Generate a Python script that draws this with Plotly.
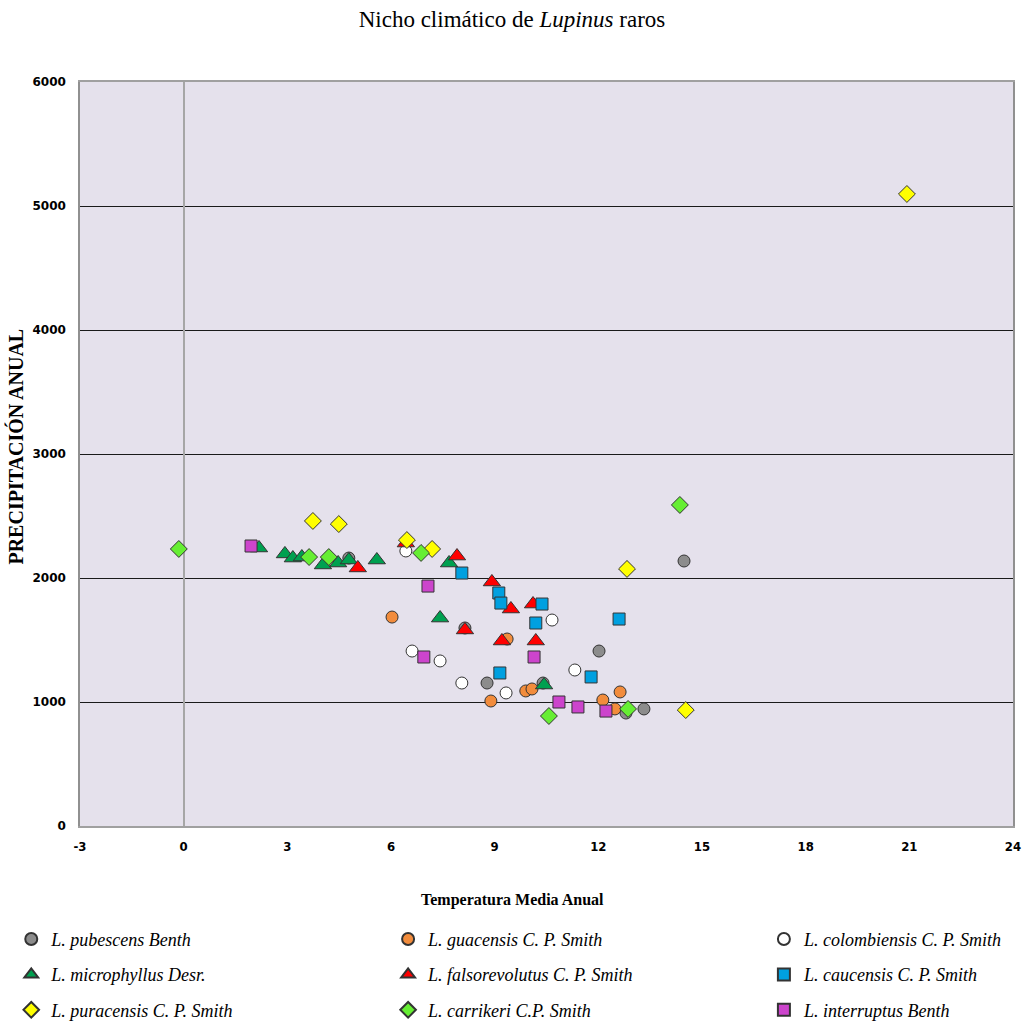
import plotly.graph_objects as go

# ---- data (Temperatura media anual, Precipitación anual) ----
pubescens_x = [4.78, 8.14, 8.78, 10.40, 12.02, 12.80, 13.32, 14.48]
pubescens_y = [2161, 1597, 1153, 1153, 1411, 911, 944, 2137]

guacensis_x = [6.03, 8.89, 9.36, 9.90, 10.08, 12.13, 12.48, 12.63]
guacensis_y = [1685, 1008, 1508, 1089, 1105, 1016, 944, 1081]

colombiensis_x = [6.43, 6.61, 7.42, 8.05, 9.33, 10.66, 11.32]
colombiensis_y = [2218, 1411, 1331, 1153, 1073, 1661, 1258]

microphyllus_x = [2.18, 2.93, 3.16, 3.42, 4.03, 4.47, 4.78, 5.59, 7.42, 7.68, 10.43]
microphyllus_y = [2242, 2194, 2161, 2169, 2105, 2121, 2145, 2145, 1677, 2121, 1137]

falsorevolutus_x = [5.04, 6.43, 7.91, 8.14, 8.92, 9.21, 9.47, 10.11, 10.19]
falsorevolutus_y = [2081, 2282, 2177, 1581, 1968, 1492, 1750, 1790, 1492]

caucensis_x = [8.05, 9.12, 9.18, 9.15, 10.19, 10.37, 11.79, 12.60]
caucensis_y = [2040, 1879, 1798, 1234, 1637, 1790, 1202, 1669]

puracensis_x = [3.74, 4.49, 6.46, 7.19, 12.83, 14.53, 20.93]
puracensis_y = [2460, 2435, 2306, 2234, 2073, 935, 5097]

carrikeri_x = [-0.14, 3.63, 4.20, 6.87, 10.57, 12.86, 14.36]
carrikeri_y = [2234, 2169, 2169, 2202, 887, 944, 2589]

interruptus_x = [1.95, 7.07, 6.95, 10.14, 10.86, 11.41, 12.22]
interruptus_y = [2258, 1935, 1363, 1363, 1000, 960, 927]

x_ticks = [-3, 0, 3, 6, 9, 12, 15, 18, 21, 24]
x_tick_labels = ["-3", "0", "3", "6", "9", "12", "15", "18", "21", "24"]
y_ticks = [0, 1000, 2000, 3000, 4000, 5000, 6000]

series = [
    ("L. pubescens Benth", pubescens_x, pubescens_y, "circle", "#8C8C8C", "legend"),
    ("L. microphyllus Desr.", microphyllus_x, microphyllus_y, "triangle-up", "#00A050", "legend"),
    ("L. puracensis C. P. Smith", puracensis_x, puracensis_y, "diamond", "#FFFF00", "legend"),
    ("L. guacensis C. P. Smith", guacensis_x, guacensis_y, "circle", "#F28C3C", "legend2"),
    ("L. falsorevolutus C. P. Smith", falsorevolutus_x, falsorevolutus_y, "triangle-up", "#FF0000", "legend2"),
    ("L. carrikeri C.P. Smith", carrikeri_x, carrikeri_y, "diamond", "#66EE33", "legend2"),
    ("L. colombiensis C. P. Smith", colombiensis_x, colombiensis_y, "circle", "#FFFFFF", "legend3"),
    ("L. caucensis C. P. Smith", caucensis_x, caucensis_y, "square", "#00A0E0", "legend3"),
    ("L. interruptus Benth", interruptus_x, interruptus_y, "square", "#CC44CC", "legend3"),
]

# draw order (back to front) similar to the original
draw_order = [0, 3, 6, 1, 4, 7, 2, 5, 8]

fig = go.Figure()
for i in draw_order:
    name, xs, ys, sym, col, leg = series[i]
    size = 12 if sym != "triangle-up" else 15
    if sym == "diamond":
        size = 13
    fig.add_trace(go.Scatter(
        x=xs, y=ys, mode="markers", name=name,
        legend=leg, legendgroup=name, legendrank=i,
        marker=dict(symbol=sym, size=size, color=col,
                    line=dict(color="#333333", width=1)),
    ))

legend_common = dict(
    font=dict(family="Liberation Serif", size=18, color="#000000", style="italic"),
    orientation="v", xref="container", yref="container",
    xanchor="left", yanchor="top", tracegroupgap=9,
    bgcolor="rgba(0,0,0,0)", itemsizing="constant",
)

fig.update_layout(
    width=1024, height=1030,
    paper_bgcolor="#FFFFFF", plot_bgcolor="#E5E1EC",
    margin=dict(l=80, r=11, t=82, b=204, autoexpand=False),
    title=dict(text="Nicho climático de <i>Lupinus</i> raros",
               x=0.5, xanchor="center", y=0.982, yanchor="middle",
               font=dict(family="Liberation Serif", size=23, color="#000000")),
    xaxis=dict(range=[-3, 24], tickvals=x_ticks, ticktext=x_tick_labels,
               showgrid=False, automargin=False,
               zeroline=True, zerolinecolor="#A6A6A6", zerolinewidth=1.5,
               showline=True, linecolor="#A0A0A0", linewidth=1.5, mirror=True,
               tickfont=dict(family="DejaVu Sans Condensed", size=13, color="#000000", weight="bold"),
               ticklabelstandoff=8),
    yaxis=dict(range=[0, 6000], tickvals=y_ticks, showgrid=True, automargin=False,
               gridcolor="#1A1A1A", gridwidth=1.2, zeroline=False,
               showline=True, linecolor="#909090", linewidth=1.5, mirror=True,
               tickfont=dict(family="DejaVu Sans", size=12, color="#000000", weight="bold"),
               ticklabelstandoff=10),
    annotations=[
        dict(text="<b>Temperatura Media Anual</b>", xref="paper", yref="paper",
             x=0.464, y=0, yshift=-74, xanchor="center", yanchor="middle",
             showarrow=False,
             font=dict(family="Liberation Serif", size=16, color="#000000")),
        dict(text="<b>PRECIPITACIÓN ANUAL</b>", xref="paper", yref="paper",
             x=0, xshift=-64, y=0.51, xanchor="center", yanchor="middle",
             textangle=-90, showarrow=False,
             font=dict(family="Liberation Serif", size=20, color="#000000")),
    ],
    legend=dict(x=0.011, y=0.106, **legend_common),
    legend2=dict(x=0.379, y=0.106, **legend_common),
    legend3=dict(x=0.746, y=0.106, **legend_common),
)

fig.write_html("out.html")
